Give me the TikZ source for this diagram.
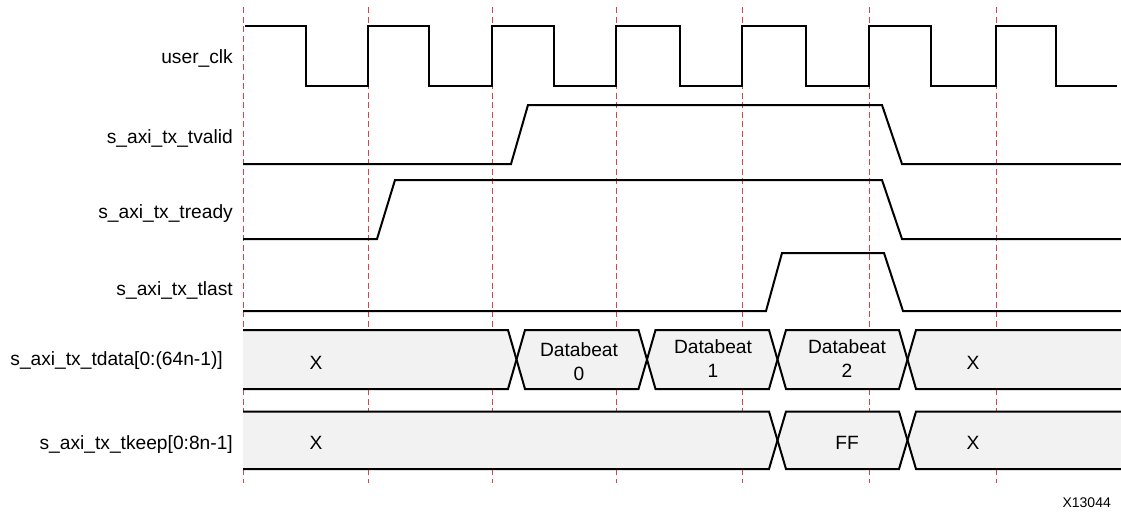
\documentclass[tikz,border=0pt]{standalone}
\usepackage{fontspec}
\setmainfont{Liberation Sans}
\definecolor{edgered}{RGB}{215,70,70}
\definecolor{busgray}{RGB}{242,242,242}

\begin{document}
\begin{tikzpicture}
  [x=1pt,y=-1pt,
   sig/.style={line width=2pt,line join=miter},
   edgeline/.style={edgered,line width=1pt,dash pattern=on 6pt off 3.5pt},
   busfill/.style={fill=busgray},
   lbl/.style={anchor=base east,inner sep=0pt,font=\fontsize{19.2}{24}\selectfont},
   val/.style={align=center,inner sep=0pt,font=\fontsize{19.2}{24}\selectfont}]

  \useasboundingbox (0,0) rectangle (1121,512);

  % clock edges, hidden behind the buses
  \foreach \x in {243,368,492,616,742,869,996}
    \draw[edgeline] (\x,7) -- (\x,330) (\x,389) -- (\x,411.5) (\x,469) -- (\x,483);

  \node[lbl] (clk) at (233,63.5) {user\_clk};
  \node[lbl] (valid) at (233,143.5) {s\_axi\_tx\_tvalid};
  \node[lbl] (ready) at (233,218) {s\_axi\_tx\_tready};
  \node[lbl] (last) at (233,295.5) {s\_axi\_tx\_tlast};
  \node[lbl] (data) at (223,365.5) {s\_axi\_tx\_tdata[0:(64n-1)]};
  \node[lbl] (keep) at (233,449) {s\_axi\_tx\_tkeep[0:8n-1]};

  % clock
  \draw[sig] (245,26)
    foreach \f/\r in {306/368,429/492,554/616,680/742,806/869,931/996}
      { -| (\f,86) -| (\r,26) }
    -| (1056,86) -- (1117,86);

  % control signals
  \draw[sig] (243,164) -- (511,164) -- (528,105) -- (882,105) -- (902,164) -- (1121,164);
  \draw[sig] (243,239) -- (377,239) -- (395,180) -- (882,180) -- (902,239) -- (1121,239);
  \draw[sig] (243,311) -- (766,311) -- (782,253) -- (884,253) -- (903,311) -- (1121,311);

  % tdata bus
  \fill[busfill] (243,330) -- (508,330) -- (516.5,359.5) -- (508,389) -- (243,389) -- cycle;
  \fill[busfill] (525,330) -- (638.5,330) -- (647,359.5) -- (638.5,389) -- (525,389) -- (516.5,359.5) -- cycle;
  \fill[busfill] (655.5,330) -- (769,330) -- (777.5,359.5) -- (769,389) -- (655.5,389) -- (647,359.5) -- cycle;
  \fill[busfill] (786,330) -- (899,330) -- (907.5,359.5) -- (899,389) -- (786,389) -- (777.5,359.5) -- cycle;
  \fill[busfill] (916,330) -- (1121,330) -- (1121,389) -- (916,389) -- (907.5,359.5) -- cycle;
  \draw[sig] (243,330) -- (508,330) -- (525,389) -- (638.5,389) -- (655.5,330) -- (769,330)
    -- (786,389) -- (899,389) -- (916,330) -- (1121,330);
  \draw[sig] (243,389) -- (508,389) -- (525,330) -- (638.5,330) -- (655.5,389) -- (769,389)
    -- (786,330) -- (899,330) -- (916,389) -- (1121,389);

  % tkeep bus
  \fill[busfill] (243,411.5) -- (769,411.5) -- (777.5,440.25) -- (769,469) -- (243,469) -- cycle;
  \fill[busfill] (786,411.5) -- (899,411.5) -- (907.5,440.25) -- (899,469) -- (786,469) -- (777.5,440.25) -- cycle;
  \fill[busfill] (916,411.5) -- (1121,411.5) -- (1121,469) -- (916,469) -- (907.5,440.25) -- cycle;
  \draw[sig] (243,411.5) -- (769,411.5) -- (786,469) -- (899,469) -- (916,411.5) -- (1121,411.5);
  \draw[sig] (243,469) -- (769,469) -- (786,411.5) -- (899,411.5) -- (916,469) -- (1121,469);

  \node[val] (x0) at (316,362.7) {X};
  \node[val] (db0) at (579,361.5) {Databeat\\0};
  \node[val] (db1) at (713,359) {Databeat\\1};
  \node[val] (db2) at (847,359) {Databeat\\2};
  \node[val] (x1) at (973,362.7) {X};
  \node[val] (kx0) at (316,442.7) {X};
  \node[val] (ff) at (847,442.7) {FF};
  \node[val] (kx1) at (973,442.7) {X};

  \node[val,font=\fontsize{14}{16}\selectfont] (fig) at (1086.7,502.7) {X13044};
\end{tikzpicture}
\end{document}
